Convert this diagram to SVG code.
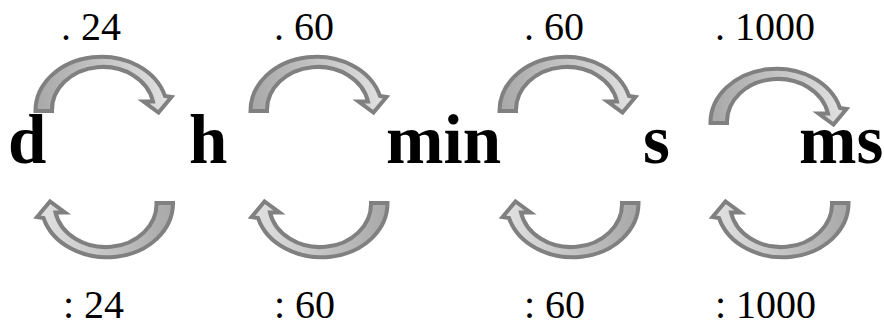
<svg xmlns="http://www.w3.org/2000/svg" xmlns:xlink="http://www.w3.org/1999/xlink" width="884" height="327" viewBox="0 0 884 327">
  <defs>
    <linearGradient id="g" x1="0" y1="0" x2="1" y2="0">
      <stop offset="0" stop-color="#a8a8a8"/>
      <stop offset="1" stop-color="#e2e2e2"/>
    </linearGradient>
    <path id="arc" d="M2.5,56 A66,54 0 0 1 132,41 L138.5,42 L125.5,57.5 L110.5,46.5 L120,46.5 A51,43 0 0 0 19,56 Z"/>
  </defs>
  <style>
    .arrow { fill: url(#g); stroke: #808080; stroke-width: 4; stroke-linejoin: miter; }
    .unit { font-family: "Liberation Serif", "Times New Roman", serif; font-weight: bold; font-size: 69px; fill: #000; }
    .lbl { font-family: "Liberation Serif", "Times New Roman", serif; font-size: 40px; fill: #000; }
  </style>
  <rect width="884" height="327" fill="#fff"/>
  <g id="connectors">
    <use xlink:href="#arc" class="arrow" transform="translate(33,55)"/>
    <use xlink:href="#arc" class="arrow" transform="translate(248,55)"/>
    <use xlink:href="#arc" class="arrow" transform="translate(497,55)"/>
    <use xlink:href="#arc" class="arrow" transform="translate(708,67)"/>
    <use xlink:href="#arc" class="arrow" transform="translate(175.5,259) rotate(180)"/>
    <use xlink:href="#arc" class="arrow" transform="translate(390,259) rotate(180)"/>
    <use xlink:href="#arc" class="arrow" transform="translate(641,259) rotate(180)"/>
    <use xlink:href="#arc" class="arrow" transform="translate(851,259) rotate(180)"/>
    <text class="lbl" x="61" y="40">. 24</text>
    <text class="lbl" x="274" y="40">. 60</text>
    <text class="lbl" x="524" y="40">. 60</text>
    <text class="lbl" x="715" y="40">. 1000</text>
    <text class="lbl" x="63" y="318">: 24</text>
    <text class="lbl" x="274" y="318">: 60</text>
    <text class="lbl" x="524" y="318">: 60</text>
    <text class="lbl" x="715" y="318">: 1000</text>
  </g>
  <g id="node-d"><text class="unit" x="8" y="163">d</text></g>
  <g id="node-h"><text class="unit" x="189" y="163">h</text></g>
  <g id="node-min"><text class="unit" x="386" y="163">min</text></g>
  <g id="node-s"><text class="unit" x="643" y="163">s</text></g>
  <g id="node-ms"><text class="unit" x="799" y="163">ms</text></g>
</svg>
